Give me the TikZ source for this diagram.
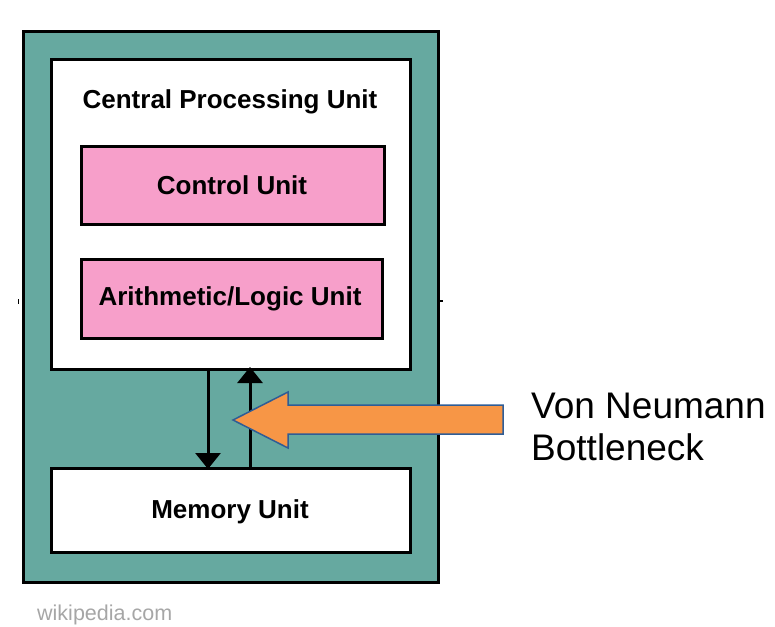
\documentclass[tikz,border=0pt]{standalone}
\usepackage{fontspec}
\setmainfont{Liberation Sans}
\usetikzlibrary{arrows.meta}
\definecolor{teal1}{HTML}{66A9A0}
\definecolor{pink1}{HTML}{F79FCA}
\definecolor{orange1}{HTML}{F79646}
\definecolor{blue1}{HTML}{2F5D96}
\definecolor{gray1}{HTML}{A6A6A6}
\tikzset{
  box/.style={draw=black, line width=3pt, anchor=north west, inner sep=0pt},
  lbl/.style={font=\fontsize{26}{30}\selectfont\bfseries, inner sep=0pt},
  flow/.style={line width=3pt, -{Triangle[width=25pt,length=16pt]}},
}
\begin{document}
\begin{tikzpicture}[x=1pt,y=-1pt]
\useasboundingbox (0,0) rectangle (775,626);
\node[box, fill=teal1, minimum width=415pt, minimum height=551pt] (outer) at (22,30) {};
\node[box, fill=white, minimum width=359pt, minimum height=310pt] (cpu) at (50,58) {};
\node[box, fill=pink1, line width=2.5pt, minimum width=303pt, minimum height=78pt] (cu) at (80,145) {};
\node[box, fill=pink1, line width=2.5pt, minimum width=301pt, minimum height=79pt] (alu) at (80,258) {};
\node[box, fill=white, minimum width=359pt, minimum height=84pt] (mem) at (50,467) {};
\node[lbl] (cputxt) at (230,102) {Central Processing Unit};
\node[lbl] (cutxt) at (232,185) {Control Unit};
\node[lbl] (alutxt) at (230,299) {Arithmetic/Logic Unit};
\node[lbl] (memtxt) at (230,512) {Memory Unit};
\coordinate (dx) at (208,0);
\coordinate (ux) at (250,0);
\draw[flow] (cpu.south -| dx) -- ([yshift=-2pt]mem.north -| dx);
\draw[flow] (mem.north -| ux) -- ([yshift=4pt]cpu.south -| ux);
\draw[fill=orange1, draw=blue1, line width=1.5pt, line join=miter]
  (233,420) -- (288,392) -- (288,405) -- (503,405) -- (503,434) -- (288,434) -- (288,448) -- cycle;
\node[anchor=west, font=\fontsize{37}{42}\selectfont, align=left, inner sep=0pt] (vn) at (531,427) {Von Neumann\\Bottleneck};
\node[anchor=west, font=\fontsize{21.5}{25}\selectfont, text=gray1, inner sep=0pt] (wiki) at (37,615) {wikipedia.com};
\draw[line width=1.5pt] (18.5,299) -- (18.5,304);
\draw[line width=2.5pt] (437,301) -- (443,301);
\end{tikzpicture}
\end{document}
